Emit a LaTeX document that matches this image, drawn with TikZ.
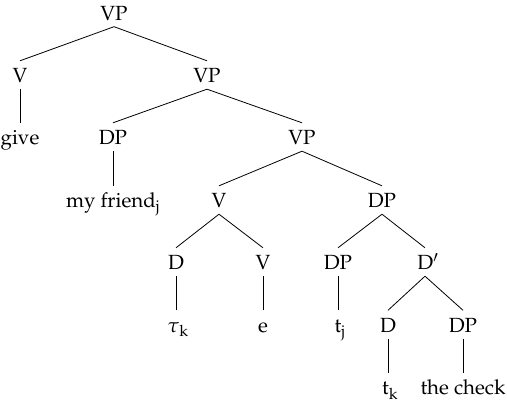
\documentclass[tikz,border=0pt]{standalone}
\usepackage[T1]{fontenc}
\usepackage{mathpazo}
\begin{document}
\begin{tikzpicture}[x=1pt,y=-1pt,
  lbl/.style={anchor=base,inner xsep=0pt,inner ysep=0pt,text height=22pt,text depth=6pt,font=\fontsize{20.5}{24}\selectfont},
  edge/.style={line width=0.8pt,black}]
\useasboundingbox (0,0) rectangle (507,406);
\def\la{20.5}\def\lb{83}\def\lc{145}\def\ld{208}\def\le{270}\def\lf{332.5}\def\lg{395}
\node[lbl] (vp1) at (114,\la) {VP};
\node[lbl] (v1) at (20,\lb) {V};
\node[lbl] (vp2) at (207,\lb) {VP};
\node[lbl] (give) at (20,\lc) {give};
\node[lbl] (dp1) at (113,\lc) {DP};
\node[lbl] (vp3) at (302,\lc) {VP};
\node[lbl] (friend) at (113,\ld) {my friend\textsubscript{j}};
\node[lbl] (v2) at (219,\ld) {V};
\node[lbl] (dp2) at (382,\ld) {DP};
\node[lbl] (d1) at (176,\le) {D};
\node[lbl] (v3) at (263,\le) {V};
\node[lbl] (dp3) at (338,\le) {DP};
\node[lbl] (dbar) at (428,\le) {D$'$};
\node[lbl] (tau) at (178,\lf) {$\tau$\textsubscript{k}};
\node[lbl] (e) at (263,\lf) {e};
\node[lbl] (tj) at (340,\lf) {t\textsubscript{j}};
\node[lbl] (d2) at (388,\lf) {D};
\node[lbl] (dp4) at (463,\lf) {DP};
\node[lbl] (tk) at (390,\lg) {t\textsubscript{k}};
\node[lbl] (check) at (463,\lg) {the check};
\draw[edge] (vp1.south) -- (v1.north);
\draw[edge] (vp1.south) -- (vp2.north);
\draw[edge] (v1.south) -- (v1.south |- give.north);
\draw[edge] (vp2.south) -- (dp1.north);
\draw[edge] (vp2.south) -- (vp3.north);
\draw[edge] (dp1.south) -- (dp1.south |- friend.north);
\draw[edge] (vp3.south) -- (v2.north);
\draw[edge] (vp3.south) -- (dp2.north);
\draw[edge] (v2.south) -- (d1.north);
\draw[edge] (v2.south) -- (v3.north);
\draw[edge] (dp2.south) -- (dp3.north);
\draw[edge] (dp2.south) -- ([xshift=-3pt]dbar.north);
\draw[edge] (d1.south) -- (d1.south |- tau.north);
\draw[edge] (v3.south) -- (e.north);
\draw[edge] (dp3.south) -- (dp3.south |- tj.north);
\draw[edge] ([xshift=-3pt]dbar.south) -- (d2.north);
\draw[edge] ([xshift=-3pt]dbar.south) -- (dp4.north);
\draw[edge] (d2.south) -- (d2.south |- tk.north);
\draw[edge] (dp4.south) -- (check.north);
\end{tikzpicture}
\end{document}
